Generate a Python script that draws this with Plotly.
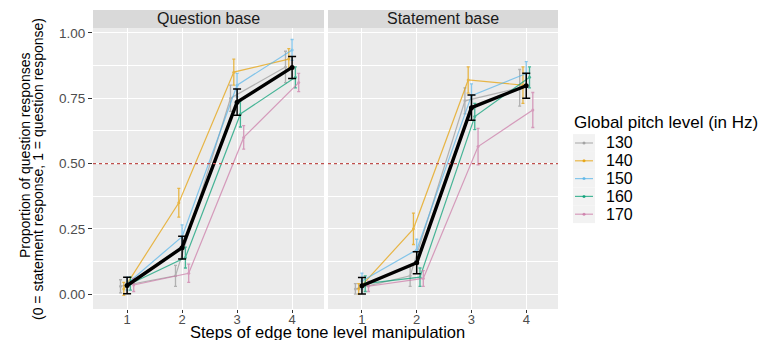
import plotly.graph_objects as go

# ---------------- data ----------------
steps = [1, 2, 3, 4]
step_labels = ["1", "2", "3", "4"]
pitch_levels = ["130", "140", "150", "160", "170"]
pitch_colors = ["#999999", "#E69F00", "#56B4E9", "#009E73", "#CC79A7"]
dodge = [-0.12, -0.06, 0.0, 0.06, 0.12]

# Question base panel: proportion of question responses per pitch level
q_130 = [0.030, 0.070, 0.750, 0.870]
q_140 = [0.020, 0.350, 0.850, 0.900]
q_150 = [0.040, 0.220, 0.800, 0.935]
q_160 = [0.040, 0.140, 0.690, 0.830]
q_170 = [0.035, 0.080, 0.600, 0.810]
q_err_130 = [0.025, 0.040, 0.050, 0.060]
q_err_140 = [0.025, 0.055, 0.050, 0.040]
q_err_150 = [0.025, 0.045, 0.045, 0.040]
q_err_160 = [0.025, 0.040, 0.050, 0.040]
q_err_170 = [0.025, 0.035, 0.045, 0.035]
q_mean = [0.033, 0.178, 0.735, 0.868]
q_mean_err = [0.032, 0.044, 0.050, 0.042]

# Statement base panel
s_130 = [0.020, 0.070, 0.740, 0.790]
s_140 = [0.020, 0.250, 0.820, 0.800]
s_150 = [0.050, 0.170, 0.760, 0.845]
s_160 = [0.040, 0.065, 0.680, 0.830]
s_170 = [0.030, 0.060, 0.565, 0.705]
s_err_130 = [0.020, 0.040, 0.050, 0.070]
s_err_140 = [0.020, 0.060, 0.050, 0.070]
s_err_150 = [0.030, 0.040, 0.045, 0.045]
s_err_160 = [0.030, 0.035, 0.050, 0.040]
s_err_170 = [0.020, 0.030, 0.070, 0.067]
s_mean = [0.032, 0.120, 0.714, 0.798]
s_mean_err = [0.032, 0.042, 0.048, 0.048]

y_ticks = [0.0, 0.25, 0.5, 0.75, 1.0]
y_tick_labels = ["0.00", "0.25", "0.50", "0.75", "1.00"]
panel_titles = ["Question base", "Statement base"]
legend_title = "Global pitch level (in Hz)"

q_series = [q_130, q_140, q_150, q_160, q_170]
q_errs = [q_err_130, q_err_140, q_err_150, q_err_160, q_err_170]
s_series = [s_130, s_140, s_150, s_160, s_170]
s_errs = [s_err_130, s_err_140, s_err_150, s_err_160, s_err_170]

FONT = "Liberation Sans, Arial, sans-serif"
OFF = 8                      # page body margin
W, H = 771 - OFF, 340 - OFF


def px(x):
    return (x - OFF) / W


def py(y):
    return 1 - (y - OFF) / H


fig = go.Figure()

panels = [("x", "y", q_series, q_errs, q_mean, q_mean_err),
          ("x2", "y2", s_series, s_errs, s_mean, s_mean_err)]

for pi, (xa, ya, series, errs, mean, mean_err) in enumerate(panels):
    for i, lvl in enumerate(pitch_levels):
        fig.add_trace(go.Scatter(
            x=[s + dodge[i] for s in steps], y=series[i],
            mode="lines+markers", name=lvl, legendgroup=lvl,
            showlegend=False,
            line=dict(color=pitch_colors[i], width=1.2),
            marker=dict(color=pitch_colors[i], size=3),
            opacity=0.7,
            error_y=dict(type="data", array=errs[i], color=pitch_colors[i],
                         thickness=1.3, width=1.5),
            xaxis=xa, yaxis=ya))
    fig.add_trace(go.Scatter(
        x=steps, y=mean, mode="lines+markers", showlegend=False,
        line=dict(color="black", width=3.4),
        marker=dict(color="black", size=5),
        error_y=dict(type="data", array=mean_err, color="black",
                     thickness=1.5, width=4),
        xaxis=xa, yaxis=ya))

# panel geometry (reference pixels -> paper)
x1d = [px(93), px(324)]
x2d = [px(328), px(558)]
yd = [py(309), py(28)]
strip = [py(28), py(10)]

xcommon = dict(range=[0.38, 4.58], tickvals=steps, ticktext=step_labels,
               showgrid=True, gridcolor="white", gridwidth=1.1, zeroline=False,
               ticks="outside", ticklen=3, tickcolor="#333333", tickwidth=1,
               ticklabelstandoff=-5,
               tickfont=dict(family=FONT, size=13, color="#4D4D4D"),
               automargin=False, showline=False)
ycommon = dict(range=[-0.057, 1.019], tickvals=y_ticks, ticktext=y_tick_labels,
               showgrid=True, gridcolor="white", gridwidth=1.1, zeroline=False,
               minor=dict(dtick=0.125, tick0=0.125, showgrid=True, gridcolor="white",
                          gridwidth=0.5, ticks=""),
               tickcolor="#333333", tickwidth=1, ticklen=4,
               tickfont=dict(family=FONT, size=13.5, color="#4D4D4D"),
               automargin=False, domain=yd)

fig.update_layout(
    width=W, height=H, autosize=False,
    margin=dict(l=0, r=0, t=0, b=0),
    paper_bgcolor="white", plot_bgcolor="#EBEBEB",
    font=dict(family=FONT, color="black"),
    xaxis=dict(domain=x1d, anchor="y", **xcommon),
    xaxis2=dict(domain=x2d, anchor="y2", **xcommon),
    yaxis=dict(anchor="x", ticks="outside", **ycommon),
    yaxis2=dict(anchor="x2", matches="y", showticklabels=False, ticks="", **ycommon),
    showlegend=False,
)

shapes = []
annotations = []
for xa, dom, title in [("x", x1d, panel_titles[0]), ("x2", x2d, panel_titles[1])]:
    shapes.append(dict(type="rect", xref="paper", yref="paper",
                       x0=dom[0], x1=dom[1], y0=strip[0], y1=strip[1],
                       fillcolor="#D9D9D9", line=dict(width=0), layer="below"))
    annotations.append(dict(text=title, xref="paper", yref="paper",
                            x=(dom[0] + dom[1]) / 2, y=(strip[0] + strip[1]) / 2,
                            xanchor="center", yanchor="middle", showarrow=False,
                            font=dict(family=FONT, size=16, color="#1A1A1A")))
    ya = "y" if xa == "x" else "y2"
    shapes.append(dict(type="line", xref=xa + " domain", yref=ya,
                       x0=0, x1=1, y0=0.5, y1=0.5,
                       line=dict(color="#C0504D", width=1.2, dash="dot"), layer="above"))

annotations.append(dict(text="Steps of edge tone level manipulation", xref="paper", yref="paper",
                        x=px(327), y=py(332), xanchor="center", yanchor="middle",
                        showarrow=False, font=dict(family=FONT, size=16.5, color="black")))
annotations.append(dict(text="Proportion of question responses", xref="paper", yref="paper",
                        x=px(25), y=py(156), xanchor="center", yanchor="middle",
                        textangle=-90, showarrow=False,
                        font=dict(family=FONT, size=14, color="black")))
annotations.append(dict(text="(0 = statement response, 1 = question response)", xref="paper", yref="paper",
                        x=px(38), y=py(169), xanchor="center", yanchor="middle",
                        textangle=-90, showarrow=False,
                        font=dict(family=FONT, size=14, color="black")))

# legend (ggplot-style keys)
annotations.append(dict(text=legend_title, xref="paper", yref="paper",
                        x=px(572), y=py(123), xanchor="left", yanchor="middle",
                        showarrow=False, font=dict(family=FONT, size=17, color="black")))
for i, lvl in enumerate(pitch_levels):
    yc = 143 + i * 17.8
    shapes.append(dict(type="rect", xref="paper", yref="paper",
                       x0=px(573), x1=px(595), y0=py(yc + 8.9), y1=py(yc - 8.9),
                       fillcolor="#F2F2F2", line=dict(width=0)))
    shapes.append(dict(type="line", xref="paper", yref="paper",
                       x0=px(575), x1=px(593), y0=py(yc), y1=py(yc),
                       line=dict(color=pitch_colors[i], width=1.2), opacity=0.7))
    shapes.append(dict(type="circle", xref="paper", yref="paper",
                       x0=px(582.5), x1=px(585.5), y0=py(yc + 1.5), y1=py(yc - 1.5),
                       fillcolor=pitch_colors[i], line=dict(width=0), opacity=0.8))
    annotations.append(dict(text=lvl, xref="paper", yref="paper",
                            x=px(604), y=py(yc), xanchor="left", yanchor="middle",
                            showarrow=False, font=dict(family=FONT, size=16, color="black")))

fig.update_layout(shapes=shapes, annotations=annotations)
fig.write_html("out.html")
